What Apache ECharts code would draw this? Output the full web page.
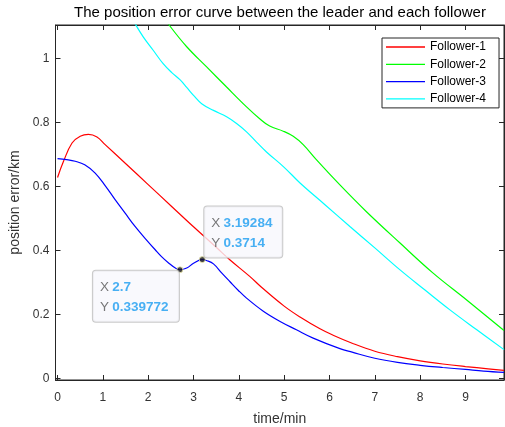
<!DOCTYPE html>
<html>
<head>
<meta charset="utf-8">
<script src="https://cdn.jsdelivr.net/npm/echarts@6/dist/echarts.min.js"></script>
<style>
  html, body { margin: 0; padding: 0; background: #fff; }
  #chart { width: 505px; height: 427px; }
</style>
</head>
<body>
<div id="chart"></div>
<script>
// Position error (km) of each follower relative to the leader, over time (min)
const timeF1 = [0, 0.13, 0.32, 0.5, 0.68, 0.87, 1.05, 1.5, 2.0, 2.5, 3.0, 3.5, 3.8, 4.24, 4.5, 5.0, 5.35, 5.79, 6.08, 6.5, 7.0, 7.5, 8.0, 8.5, 9.0, 9.5, 9.85];
const errF1  = [0.628, 0.678, 0.736, 0.757, 0.763, 0.755, 0.731, 0.672, 0.606, 0.540, 0.474, 0.410, 0.371, 0.319, 0.285, 0.226, 0.192, 0.155, 0.135, 0.110, 0.085, 0.068, 0.055, 0.045, 0.037, 0.030, 0.025];

const timeF2 = [2.35, 2.44, 2.85, 3.29, 3.73, 4.17, 4.46, 4.68, 4.98, 5.2, 5.42, 5.71, 6.23, 6.81, 7.55, 8.28, 9.02, 9.85];
const errF2  = [1.13, 1.109, 1.037, 0.974, 0.911, 0.849, 0.812, 0.789, 0.773, 0.757, 0.731, 0.684, 0.605, 0.522, 0.424, 0.330, 0.246, 0.150];

const timeF3 = [0, 0.2, 0.39, 0.6, 0.83, 1.05, 1.27, 1.5, 1.71, 1.95, 2.15, 2.3, 2.45, 2.6, 2.7, 2.85, 3.0, 3.19284, 3.3, 3.44, 3.62, 3.8, 3.99, 4.17, 4.54, 4.91, 5.27, 5.64, 6.23, 6.5, 7.0, 7.5, 8.0, 8.5, 9.0, 9.4, 9.85];
const errF3  = [0.687, 0.684, 0.679, 0.668, 0.642, 0.603, 0.559, 0.515, 0.475, 0.435, 0.403, 0.380, 0.361, 0.345, 0.339772, 0.345, 0.360, 0.3714, 0.368, 0.358, 0.330, 0.303, 0.275, 0.251, 0.210, 0.178, 0.152, 0.126, 0.093, 0.082, 0.063, 0.050, 0.041, 0.034, 0.028, 0.023, 0.019];

const timeF4 = [1.55, 1.71, 1.89, 2.11, 2.33, 2.52, 2.70, 2.85, 3.0, 3.18, 3.44, 3.73, 3.95, 4.17, 4.39, 4.61, 5.0, 5.35, 5.9, 6.45, 7.0, 7.55, 8.1, 8.65, 9.25, 9.85];
const errF4  = [1.15, 1.109, 1.068, 1.026, 0.984, 0.956, 0.934, 0.910, 0.885, 0.859, 0.838, 0.818, 0.797, 0.771, 0.739, 0.708, 0.660, 0.611, 0.543, 0.475, 0.408, 0.340, 0.277, 0.215, 0.152, 0.090];

const seriesNames  = ['Follower-1', 'Follower-2', 'Follower-3', 'Follower-4'];
const seriesColors = ['#ff0000', '#00ff00', '#0000ff', '#00ffff'];

// Data tips pinned on the Follower-3 curve
const tipX = [2.7, 3.19284];
const tipY = [0.339772, 0.3714];

const xTicks = [0, 1, 2, 3, 4, 5, 6, 7, 8, 9];
const yTicks = [0, 0.2, 0.4, 0.6, 0.8, 1];

const pairs = (xs, ys) => xs.map((x, i) => [x, ys[i]]);
const curves = [pairs(timeF1, errF1), pairs(timeF2, errF2), pairs(timeF3, errF3), pairs(timeF4, errF4)];

const axisColor = '#262626';
const labelColor = '#333333';
const font = 'Liberation Sans, Arial, Helvetica, sans-serif';

const xRange = { min: -0.045, max: 9.85 };
const yRange = { min: -0.005, max: 1.105 };

const chart = echarts.init(document.getElementById('chart'), null, { renderer: 'canvas' });

const lineSeries = curves.map((data, i) => ({
  name: seriesNames[i],
  type: 'line',
  data: data,
  xAxisIndex: 0,
  yAxisIndex: 0,
  showSymbol: false,
  symbol: 'none',
  smooth: 0.4,
  clip: true,
  lineStyle: { color: seriesColors[i], width: 1.2 },
  itemStyle: { color: seriesColors[i] },
  emphasis: { disabled: true },
  z: 2
}));

// Each tip box: fixed content width, left-aligned text, placed relative to its point
const tipLabel = (i, contentWidth, offset, vAlign) => ({
  show: true,
  position: 'inside',
  align: 'left',
  verticalAlign: vAlign,
  offset: offset,
  width: contentWidth,
  formatter: '{k|X} {v|' + String(tipX[i]) + '}\n{k|Y} {v|' + String(tipY[i]) + '}',
  backgroundColor: '#f8f8fc',
  borderColor: '#bcbcbc',
  borderWidth: 1,
  borderRadius: 3,
  padding: [7, 8, 5, 7],
  lineHeight: 19.5,
  rich: {
    k: { color: '#555555', fontSize: 13.5, fontFamily: font, lineHeight: 19.5 },
    v: { color: '#1a9cf0', fontSize: 13.5, fontWeight: 'bold', fontFamily: font, lineHeight: 19.5 }
  }
});

const tipSeries = {
  type: 'scatter',
  xAxisIndex: 0,
  yAxisIndex: 0,
  symbolSize: 6,
  itemStyle: { color: '#151515', borderColor: '#f3f0b0', borderWidth: 1 },
  emphasis: { disabled: true },
  z: 10,
  data: [
    { value: [tipX[0], tipY[0]], label: tipLabel(0, 71, [-87, 1], 'top') },
    { value: [tipX[1], tipY[1]], label: tipLabel(1, 63, [2, -2], 'bottom') }
  ]
};

const frameAxis = (pos, range, ticks) => ({
  type: 'value', position: pos, min: range.min, max: range.max,
  show: true,
  axisLine: { show: true, onZero: false, lineStyle: { color: axisColor, width: 1 } },
  axisTick: { show: true, inside: true, length: 5, customValues: ticks, lineStyle: { color: axisColor } },
  axisLabel: { show: false },
  splitLine: { show: false }
});

const option = {
  animation: false,
  backgroundColor: '#ffffff',
  textStyle: { fontFamily: font },
  title: {
    text: 'The position error curve between the leader and each follower',
    left: 280,
    top: 5,
    textAlign: 'center',
    padding: 0,
    textStyle: { fontSize: 15, fontWeight: 'normal', color: '#000000', fontFamily: font }
  },
  legend: {
    data: seriesNames,
    orient: 'vertical',
    left: 382,
    top: 38,
    padding: [2, 13, 2, 4],
    itemWidth: 39,
    itemHeight: 14,
    itemGap: 3.3,
    icon: 'path://M0,0H40V1.3H0Z',
    backgroundColor: '#ffffff',
    borderColor: axisColor,
    borderWidth: 1,
    borderRadius: 0,
    selectedMode: false,
    textStyle: { fontSize: 12, color: '#000000', lineHeight: 14, fontFamily: font }
  },
  grid: { left: 55.5, right: 1, top: 25, bottom: 47, containLabel: false, outerBoundsMode: 'none',
          show: true, borderColor: axisColor, borderWidth: 1, backgroundColor: 'transparent' },
  xAxis: [
    {
      type: 'value', position: 'bottom', min: xRange.min, max: xRange.max,
      name: 'time/min', nameLocation: 'middle', nameGap: 32,
      nameTextStyle: { fontSize: 14, color: labelColor, fontFamily: font },
      axisLine: { show: true, onZero: false, lineStyle: { color: axisColor, width: 1 } },
      axisTick: { show: true, inside: true, length: 5, customValues: xTicks, lineStyle: { color: axisColor } },
      axisLabel: { show: true, customValues: xTicks, margin: 12, fontSize: 12, color: labelColor, fontFamily: font },
      splitLine: { show: false }
    },
    frameAxis('top', xRange, xTicks)
  ],
  yAxis: [
    {
      type: 'value', position: 'left', min: yRange.min, max: yRange.max,
      name: 'position error/km', nameLocation: 'middle', nameGap: 28, nameRotate: 90,
      nameTextStyle: { fontSize: 14, color: labelColor, fontFamily: font },
      axisLine: { show: true, onZero: false, lineStyle: { color: axisColor, width: 1 } },
      axisTick: { show: true, inside: true, length: 5, customValues: yTicks, lineStyle: { color: axisColor } },
      axisLabel: { show: true, customValues: yTicks, margin: 6, fontSize: 12, color: labelColor, fontFamily: font,
                   formatter: v => String(Math.round(v * 10) / 10) },
      splitLine: { show: false }
    },
    frameAxis('right', yRange, yTicks)
  ],
  series: lineSeries.concat([tipSeries])
};

chart.setOption(option);
</script>
</body>
</html>
